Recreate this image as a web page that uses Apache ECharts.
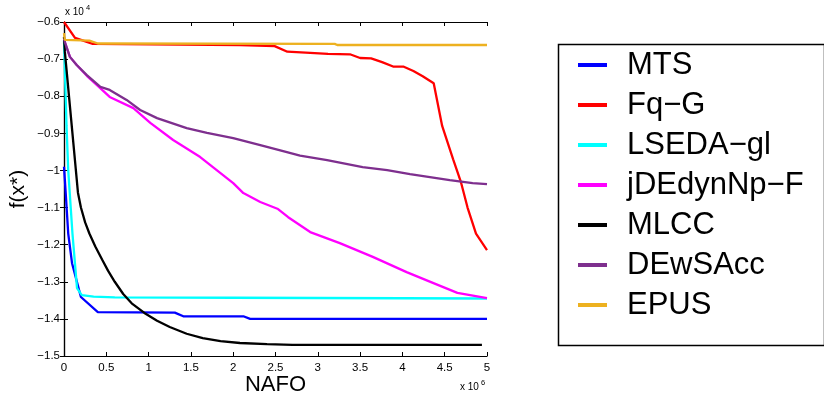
<!DOCTYPE html>
<html>
<head>
<meta charset="utf-8">
<script src="https://cdn.jsdelivr.net/npm/echarts@6/dist/echarts.min.js"></script>
<style>
  html, body { margin: 0; padding: 0; background: #fff; }
  #chart { width: 824px; height: 403px; }
</style>
</head>
<body>
<div id="chart"></div>
<script>
// Convergence curves: NAFO (x 10^6) vs best objective f(x*) (x 10^4)
const seriesNames = ['MTS', 'Fq\u2212G', 'LSEDA\u2212gl', 'jDEdynNp\u2212F', 'MLCC', 'DEwSAcc', 'EPUS'];
const seriesColors = ['#0000ff', '#ff0000', '#00ffff', '#ff00ff', '#000000', '#7e2f8e', '#edb120'];

const xTicks = [0, 0.5, 1, 1.5, 2, 2.5, 3, 3.5, 4, 4.5, 5];
const yTicks = [-1.5, -1.4, -1.3, -1.2, -1.1, -1, -0.9, -0.8, -0.7, -0.6];

const mtsData = [
  [0, -0.99], [0.02, -1.06], [0.05, -1.17], [0.095, -1.25], [0.2, -1.341],
  [0.4, -1.382], [1.31, -1.383], [1.41, -1.393], [2.12, -1.393], [2.2, -1.40], [5, -1.40]
];
const fqgData = [
  [0, -0.60], [0.13, -0.643], [0.34, -0.659], [2.08, -0.662], [2.49, -0.665],
  [2.64, -0.68], [2.91, -0.683], [3.12, -0.686], [3.38, -0.687], [3.5, -0.697],
  [3.63, -0.698], [3.76, -0.708], [3.89, -0.72], [4.01, -0.72], [4.13, -0.732],
  [4.24, -0.746], [4.37, -0.765], [4.47, -0.88], [4.6, -0.97], [4.69, -1.03],
  [4.77, -1.10], [4.87, -1.17], [5.0, -1.215]
];
const lsedaData = [
  [0, -0.65], [0.03, -0.88], [0.05, -1.0], [0.1, -1.17], [0.154, -1.317],
  [0.21, -1.336], [0.35, -1.34], [0.6, -1.342], [2, -1.343], [5, -1.345]
];
const jdeData = [
  [0, -0.645], [0.01, -0.654], [0.07, -0.694], [0.15, -0.716], [0.27, -0.745],
  [0.39, -0.77], [0.54, -0.802], [0.82, -0.832], [1.02, -0.872], [1.29, -0.918],
  [1.61, -0.964], [1.76, -0.991], [2.0, -1.034], [2.12, -1.061], [2.32, -1.085],
  [2.53, -1.104], [2.65, -1.126], [2.91, -1.166], [3.26, -1.196], [3.65, -1.233],
  [4.05, -1.274], [4.36, -1.303], [4.65, -1.33], [5.0, -1.344]
];
const mlccData = [
  [0, -0.64], [0.01, -0.68], [0.165, -1.06], [0.2, -1.10], [0.25, -1.14],
  [0.3, -1.17], [0.37, -1.205], [0.45, -1.24], [0.52, -1.27], [0.6, -1.30],
  [0.7, -1.333], [0.8, -1.358], [0.95, -1.384], [1.1, -1.405], [1.25, -1.422],
  [1.45, -1.44], [1.64, -1.452], [1.85, -1.46], [2.08, -1.465], [2.4, -1.468],
  [2.7, -1.47], [4.94, -1.47]
];
const dewsaccData = [
  [0, -0.645], [0.01, -0.654], [0.07, -0.694], [0.15, -0.716], [0.27, -0.743],
  [0.43, -0.775], [0.54, -0.783], [0.74, -0.81], [0.9, -0.837], [1.1, -0.859],
  [1.45, -0.886], [1.69, -0.899], [2.0, -0.913], [2.32, -0.932], [2.59, -0.948],
  [2.79, -0.96], [3.11, -0.972], [3.53, -0.991], [3.82, -0.999], [4.09, -1.01],
  [4.56, -1.026], [4.83, -1.034], [5.0, -1.037]
];
const epusData = [
  [0, -0.63], [0.01, -0.648], [0.3, -0.65], [0.4, -0.658], [3.2, -0.659],
  [3.23, -0.662], [5, -0.662]
];
const allData = [mtsData, fqgData, lsedaData, jdeData, mlccData, dewsaccData, epusData];

const FONT = 'Liberation Sans, Arial, Helvetica, sans-serif';
const fmtX = v => String(+v.toFixed(1));
const fmtY = v => String(Math.round(v * 10) / 10).replace('-', '\u2212');

const tickStyle = { show: true, inside: true, length: 4, lineStyle: { color: '#000', width: 1 } };
const lineStyle = { show: true, lineStyle: { color: '#000', width: 1.2 } };

const chart = echarts.init(document.getElementById('chart'), null, { renderer: 'canvas' });

chart.setOption({
  animation: false,
  backgroundColor: '#fff',
  grid: { left: 64, top: 22, right: 337, bottom: 47, containLabel: false },
  xAxis: [
    {
      type: 'value', min: xTicks[0], max: xTicks[xTicks.length - 1], interval: 0.5,
      axisLine: lineStyle, axisTick: tickStyle, splitLine: { show: false },
      axisLabel: { color: '#000', fontFamily: FONT, fontSize: 11.5, margin: 6, formatter: fmtX }
    },
    {
      type: 'value', position: 'top', min: xTicks[0], max: xTicks[xTicks.length - 1], interval: 0.5,
      axisLine: lineStyle, axisTick: tickStyle, splitLine: { show: false }, axisLabel: { show: false }
    }
  ],
  yAxis: [
    {
      type: 'value', min: yTicks[0], max: yTicks[yTicks.length - 1], interval: 0.1,
      axisLine: lineStyle, axisTick: tickStyle, splitLine: { show: false },
      axisLabel: { color: '#000', fontFamily: FONT, fontSize: 11.5, margin: 4, formatter: fmtY }
    },
    {
      type: 'value', position: 'right', min: yTicks[0], max: yTicks[yTicks.length - 1], interval: 0.1,
      axisLine: lineStyle, axisTick: tickStyle, splitLine: { show: false }, axisLabel: { show: false }
    }
  ],
  legend: {
    orient: 'vertical',
    left: 557, top: 42,
    padding: [7, 10, 10, 21],
    itemGap: 8,
    itemWidth: 29, itemHeight: 4,
    icon: 'rect',
    textStyle: { color: '#000', fontFamily: FONT, fontSize: 31, lineHeight: 32, padding: [0, 0, 0, 15] },
    data: seriesNames
  },
  series: seriesNames.map((name, i) => ({
    name,
    type: 'line',
    data: allData[i],
    showSymbol: false,
    symbol: 'none',
    color: seriesColors[i],
    lineStyle: { color: seriesColors[i], width: 2.3 },
    z: 2 + i
  })),
  graphic: [
    {
      type: 'rect', left: 556, top: 42, z: 0,
      shape: { width: 266, height: 301 },
      style: { fill: 'none', stroke: '#000', lineWidth: 1.5 }
    },
    {
      type: 'text', x: 18, y: 189, rotation: Math.PI / 2,
      style: { text: 'f(x*)', fontFamily: FONT, fontSize: 21, fill: '#000', textAlign: 'center', textVerticalAlign: 'middle' }
    },
    {
      type: 'text', x: 275.5, y: 385,
      style: { text: 'NAFO', fontFamily: FONT, fontSize: 22, fill: '#000', textAlign: 'center', textVerticalAlign: 'middle' }
    },
    {
      type: 'text', x: 65, y: 17,
      style: { text: 'x 10', fontFamily: FONT, fontSize: 10, fill: '#000', textAlign: 'left', textVerticalAlign: 'bottom' }
    },
    {
      type: 'text', x: 86, y: 12,
      style: { text: '4', fontFamily: FONT, fontSize: 7.5, fill: '#000', textAlign: 'left', textVerticalAlign: 'bottom' }
    },
    {
      type: 'text', x: 460, y: 392,
      style: { text: 'x 10', fontFamily: FONT, fontSize: 10, fill: '#000', textAlign: 'left', textVerticalAlign: 'bottom' }
    },
    {
      type: 'text', x: 481, y: 387,
      style: { text: '6', fontFamily: FONT, fontSize: 7.5, fill: '#000', textAlign: 'left', textVerticalAlign: 'bottom' }
    }
  ]
});
</script>
</body>
</html>
